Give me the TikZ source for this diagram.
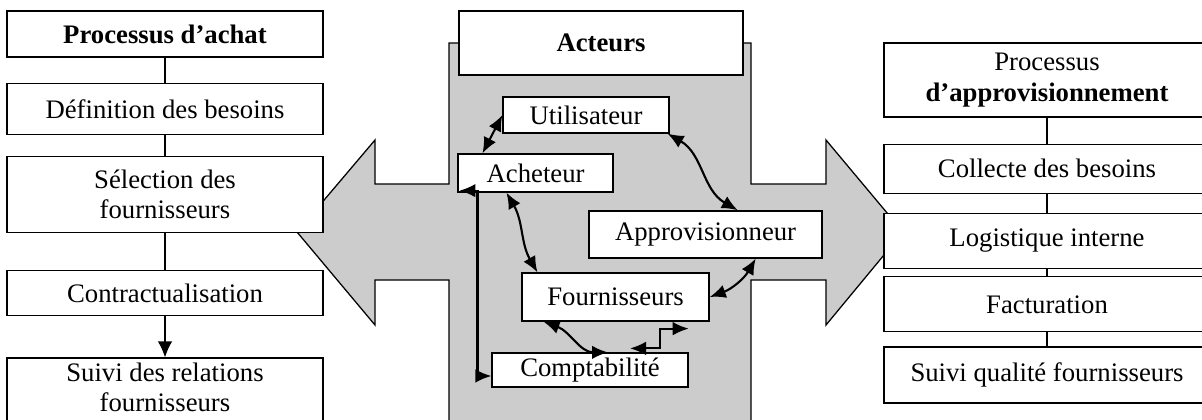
\documentclass[tikz,border=0pt]{standalone}
\usepackage{fontspec}
\setmainfont{Liberation Serif}
\usepackage{xcolor}
\usepackage{tikz}
\usetikzlibrary{arrows.meta, positioning, backgrounds}
\definecolor{crossgray}{RGB}{204,204,204}

\begin{document}
\begin{tikzpicture}[
        node distance = 0.6cm,
        box/.style = {draw, rectangle, fill=white, align=center, inner sep=2pt, line width=0.9pt, font=\fontsize{19}{21.5}\selectfont},
        title/.style = {box, font=\fontsize{19}{21.5}\selectfont\bfseries},
        achatbox/.style = {box, minimum width=7.9cm},
        approbox/.style = {box, minimum width=8.15cm},
        actor/.style = {box},
        link/.style = {draw=black, line width=0.9pt},
        arrow/.style = {link, -{Latex[length=4mm, width=3.6mm]}},
        biarrow/.style = {draw=black, line width=1.5pt, {Latex[length=4mm, width=3.4mm]}-{Latex[length=4mm, width=3.4mm]}},
        cross/.style = {draw=black, line width=0.9pt, fill=crossgray}
    ]

        \useasboundingbox (0,0) rectangle (30.05,-10.475);

        % === Left Flow: Processus d'achat ===
        \node (achat) [title, minimum width=7.9cm, minimum height=1.15cm] at (4.125,-0.85) {Processus d’achat};
        
        \node (besoins) [achatbox, minimum height=1.275cm, below=0.625cm of achat] {Définition des besoins};
        
        \node (selection) [achatbox, minimum height=1.9cm, below=0.525cm of besoins] {Sélection des\\fournisseurs};
        
        \node (contrat) [achatbox, minimum height=1.125cm, below=0.925cm of selection] {Contractualisation};
        
        \node (suivirel) [achatbox, minimum height=1.8cm, text depth=0.35cm, below=1.025cm of contrat] {Suivi des relations\\fournisseurs};

        % === Right Flow: Processus d'approvisionnement ===
        \node (appro) [approbox, minimum height=1.85cm] at (26.175,-2.0) {Processus\\\textbf{d’approvisionnement}};
        
        \node (collecte) [approbox, minimum height=1.225cm, below=0.65cm of appro] {Collecte des besoins};
        
        \node (logistique) [approbox, minimum height=1.375cm, below=0.475cm of collecte] {Logistique interne};
        
        \node (facturation) [approbox, minimum height=1.375cm, below=0.175cm of logistique] {Facturation};
        
        \node (suiviqual) [approbox, minimum height=1.4cm, below=0.35cm of facturation] {Suivi qualité fournisseurs};

        % === Middle: Acteurs ===
        \node (acteurs) [title, minimum width=7.1cm, minimum height=1.6cm] at (15.025,-1.075) {Acteurs};
        
        \node (utilisateur) [actor, minimum width=4.15cm, minimum height=0.9cm] at (14.65,-2.875) {Utilisateur};
        
        \node (acheteur) [actor, minimum width=3.875cm, minimum height=0.95cm] at (13.39,-4.325) {Acheteur};
        
        \node (approvisionneur) [actor, minimum width=5.825cm, minimum height=1.175cm] at (17.64,-5.86) {Approvisionneur};
        
        \node (fournisseurs) [actor, minimum width=4.675cm, minimum height=1.2cm] at (15.39,-7.425) {Fournisseurs};
        
        \node (comptabilite) [actor, minimum width=4.9cm, minimum height=0.85cm] at (14.75,-9.25) {Comptabilité};

        % === Arrows ===
        % Achat
        \draw [link] (achat) -- (besoins);
        \draw [link] (besoins) -- (selection);
        \draw [link] (selection) -- (contrat);
        \draw [arrow] (contrat) -- (suivirel);

        % Approvisionnement
        \draw [link] (appro) -- (collecte);
        \draw [link] (collecte) -- (logistique);
        \draw [link] (logistique) -- (facturation);
        \draw [link] (facturation) -- (suiviqual);

        % Acteurs
        \draw [biarrow] (utilisateur.west) -- ([xshift=0.625cm]acheteur.north west);
        \draw [biarrow] ([xshift=-0.05cm]utilisateur.south east) to[out=-30, in=150] ([xshift=-2.125cm]approvisionneur.north east);
        \draw [biarrow] ([xshift=1.225cm]acheteur.south west) to[out=-60, in=120] ([xshift=0.4cm]fournisseurs.north west);
        \draw [biarrow] ([xshift=-1.675cm]approvisionneur.south east) to[out=-120, in=20] (fournisseurs.east);
        \draw [biarrow] ([xshift=0.55cm]fournisseurs.south west) to[out=-20, in=180] ([xshift=0.45cm]comptabilite.north);
        \draw [biarrow] ([shift={(1.0,0.1)}]comptabilite.north) -- ++(0.75,0) |- ([shift={(-0.525,-0.175)}]fournisseurs.south east);
        \draw [biarrow] ([shift={(0.05,0.05)}]acheteur.south west) -- ++(0.45,0) |- ([yshift=-0.15cm]comptabilite.west);

        % Cross (background)
        \begin{scope}[on background layer]
            \draw [cross] (11.225,-1.075) -- (18.775,-1.075) -- (18.775,-4.6) -- (20.65,-4.6) -- (20.65,-3.5) -- (22.575,-5.8) -- (20.65,-8.125) -- (20.65,-7.0) -- (18.775,-7.0) -- (18.775,-10.75) -- (11.225,-10.75) -- (11.225,-7.0) -- (9.375,-7.0) -- (9.375,-8.125) -- (7.425,-5.8) -- (9.375,-3.5) -- (9.375,-4.6) -- (11.225,-4.6) -- cycle;
        \end{scope}

    \end{tikzpicture}
\end{document}
